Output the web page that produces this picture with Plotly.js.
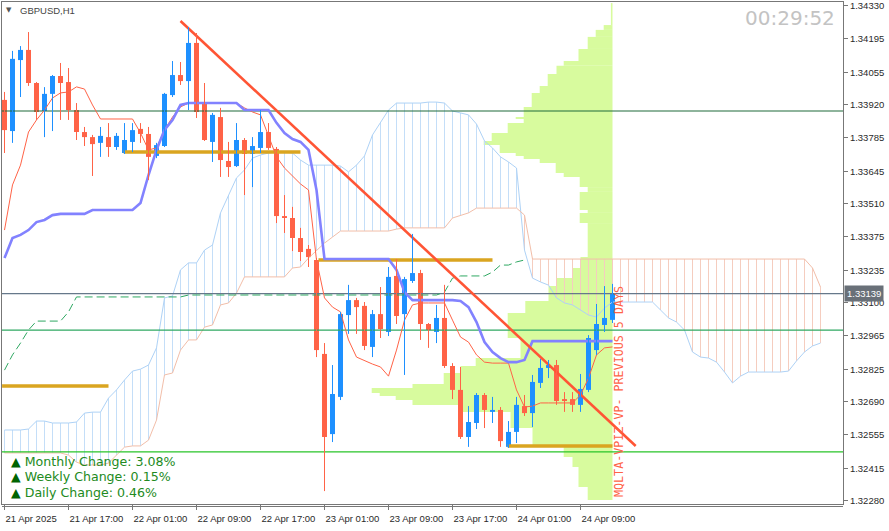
<!DOCTYPE html>
<html><head><meta charset="utf-8">
<script src="https://cdn.plot.ly/plotly-3.0.1.min.js"></script>
<style>html,body{margin:0;padding:0;background:#fff;}#chart{width:889px;height:531px;}</style>
</head><body><div id="chart"></div>
<script>
// ---- data (GBPUSD H1, bar 0 = 21 Apr 2025 09:00) ----
const openP=[1.33941,1.33812,1.34106,1.34148,1.34011,1.33895,1.33966,1.34040,1.34015,1.33899,
1.33808,1.33787,1.33763,1.33787,1.33746,1.33721,1.33767,1.33821,1.33800,1.33709,
1.33750,1.33961,1.34044,1.34019,1.34177,1.33928,1.33767,1.33870,1.33688,1.33667,
1.33775,1.33717,1.33742,1.33808,1.33738,1.33460,1.33452,1.33369,1.33324,1.33278,
1.32889,1.32557,1.32711,1.33050,1.33112,1.33088,1.32918,1.33054,1.32980,1.33212,
1.33054,1.33191,1.33224,1.33013,1.32980,1.33038,1.32839,1.32740,1.32545,1.32603,
1.32719,1.32649,1.32657,1.32504,1.32566,1.32673,1.32644,1.32769,1.32831,1.32843,
1.32702,1.32702,1.32678,1.32740,1.32905,1.33009,1.33030];
const highP=[1.33974,1.34144,1.34164,1.34222,1.34015,1.33994,1.34044,1.34094,1.34073,1.33928,
1.33829,1.33796,1.33829,1.33845,1.33804,1.33845,1.33845,1.33845,1.33829,1.33763,
1.33970,1.34102,1.34098,1.34243,1.34218,1.34011,1.33887,1.33908,1.33767,1.33845,
1.33783,1.33787,1.33899,1.33845,1.33746,1.33547,1.33498,1.33411,1.33340,1.33286,
1.32934,1.32843,1.33063,1.33175,1.33121,1.33104,1.33071,1.33166,1.33249,1.33282,
1.33208,1.33386,1.33237,1.33017,1.33092,1.33175,1.32851,1.32835,1.32673,1.32727,
1.32727,1.32711,1.32669,1.32611,1.32711,1.32719,1.32802,1.32868,1.32864,1.32864,
1.32731,1.32731,1.32806,1.32967,1.33096,1.33170,1.33179];
const lowP=[1.33721,1.33763,1.33953,1.33999,1.33858,1.33787,1.33812,1.33858,1.33858,1.33775,
1.33750,1.33626,1.33705,1.33705,1.33734,1.33717,1.33725,1.33763,1.33609,1.33700,
1.33746,1.33953,1.34003,1.33899,1.33866,1.33771,1.33684,1.33622,1.33622,1.33663,
1.33547,1.33580,1.33721,1.33734,1.33431,1.33390,1.33315,1.33274,1.33249,1.32876,
1.32321,1.32524,1.32698,1.32972,1.32972,1.32905,1.32876,1.32955,1.32963,1.33013,
1.32802,1.33183,1.32947,1.32914,1.32934,1.32831,1.32702,1.32537,1.32504,1.32578,
1.32582,1.32603,1.32504,1.32500,1.32520,1.32632,1.32586,1.32748,1.32789,1.32678,
1.32649,1.32649,1.32649,1.32731,1.32885,1.32980,1.33017];
const closeP=[1.33816,1.34111,1.34148,1.34011,1.33891,1.33966,1.34040,1.34011,1.33899,1.33808,
1.33787,1.33758,1.33792,1.33746,1.33792,1.33775,1.33816,1.33800,1.33705,1.33754,
1.33966,1.34044,1.34019,1.34177,1.33891,1.33775,1.33879,1.33692,1.33663,1.33775,
1.33717,1.33750,1.33808,1.33742,1.33460,1.33452,1.33369,1.33311,1.33290,1.32905,
1.32545,1.32723,1.33054,1.33112,1.33083,1.32922,1.33054,1.32992,1.33208,1.33046,
1.33199,1.33224,1.33013,1.32988,1.33038,1.32839,1.32740,1.32545,1.32607,1.32719,
1.32657,1.32657,1.32528,1.32566,1.32678,1.32644,1.32773,1.32831,1.32843,1.32694,
1.32694,1.32678,1.32744,1.32955,1.33013,1.33038,1.33139];

const tenkan=[1.33402,1.33589,1.33671,1.33808,1.33858,1.33899,1.33949,1.33970,1.33974,1.33995,
1.33986,1.33920,1.33862,1.33862,1.33862,1.33862,1.33862,1.33804,1.33734,1.33742,
1.33817,1.33870,1.33912,1.33928,1.33928,1.33928,1.33928,1.33928,1.33928,1.33928,
1.33908,1.33891,1.33879,1.33796,1.33705,1.33659,1.33626,1.33593,1.33568,1.33278,
1.33121,1.33083,1.33063,1.32947,1.32876,1.32860,1.32847,1.32835,1.32797,1.32905,
1.33029,1.33092,1.33100,1.33100,1.33100,1.33100,1.33029,1.32959,1.32938,1.32885,
1.32855,1.32851,1.32851,1.32851,1.32740,1.32669,1.32673,1.32686,1.32686,1.32686,
1.32686,1.32686,1.32719,1.32789,1.32885,1.32914,1.32918];
const kijun=[1.33286,1.33369,1.33382,1.33402,1.33435,1.33444,1.33464,1.33469,1.33469,1.33469,
1.33469,1.33485,1.33485,1.33485,1.33485,1.33485,1.33485,1.33514,1.33630,1.33734,
1.33817,1.33858,1.33920,1.33928,1.33928,1.33928,1.33928,1.33928,1.33928,1.33928,
1.33899,1.33899,1.33899,1.33899,1.33846,1.33804,1.33779,1.33767,1.33734,1.33568,
1.33282,1.33282,1.33282,1.33282,1.33282,1.33282,1.33282,1.33282,1.33282,1.33237,
1.33145,1.33112,1.33112,1.33112,1.33112,1.33112,1.33112,1.33108,1.33083,1.33021,
1.32938,1.32897,1.32872,1.32855,1.32855,1.32864,1.32942,1.32942,1.32942,1.32942,
1.32942,1.32942,1.32942,1.32942,1.32942,1.32942,1.32942];
const spanA=[1.32574,1.32574,1.32574,1.32578,1.32611,1.32611,1.32603,1.32603,1.32603,1.32607,
1.32644,1.32648,1.32648,1.32706,1.32740,1.32781,1.32818,1.32826,1.32843,1.32914,
1.33121,1.33129,1.33237,1.33266,1.33266,1.33319,1.33340,1.33473,1.33547,1.33618,
1.33651,1.33700,1.33713,1.33721,1.33725,1.33725,1.33721,1.33692,1.33671,1.33671,
1.33671,1.33671,1.33667,1.33643,1.33671,1.33709,1.33796,1.33850,1.33899,1.33928,
1.33928,1.33928,1.33928,1.33932,1.33932,1.33928,1.33895,1.33887,1.33879,1.33841,
1.33771,1.33742,1.33705,1.33684,1.33659,1.33319,1.33203,1.33187,1.33174,1.33121,
1.33100,1.33092,1.33071,1.33050,1.33042,1.33079,1.33104,1.33104,1.33104,1.33104,
1.33104,1.33104,1.33071,1.33038,1.33021,1.32988,1.32897,1.32876,1.32872,1.32855,
1.32814,1.32769,1.32797,1.32814,1.32814,1.32814,1.32814,1.32814,1.32818,1.32860,
1.32897,1.32922,1.32934];
const spanB=[1.32479,1.32479,1.32479,1.32479,1.32479,1.32479,1.32479,1.32479,1.32470,1.32441,
1.32429,1.32429,1.32429,1.32437,1.32470,1.32503,1.32508,1.32508,1.32532,1.32615,
1.32802,1.32810,1.32905,1.32947,1.32947,1.33000,1.33009,1.33092,1.33100,1.33141,
1.33208,1.33208,1.33208,1.33208,1.33208,1.33208,1.33245,1.33249,1.33286,1.33319,
1.33348,1.33373,1.33398,1.33398,1.33398,1.33398,1.33398,1.33398,1.33398,1.33406,
1.33411,1.33411,1.33411,1.33411,1.33411,1.33411,1.33452,1.33464,1.33473,1.33493,
1.33493,1.33493,1.33493,1.33493,1.33493,1.33464,1.33282,1.33282,1.33282,1.33282,
1.33282,1.33282,1.33282,1.33282,1.33282,1.33282,1.33282,1.33282,1.33282,1.33282,
1.33282,1.33282,1.33282,1.33282,1.33282,1.33282,1.33282,1.33282,1.33282,1.33282,
1.33282,1.33282,1.33282,1.33282,1.33282,1.33282,1.33282,1.33282,1.33282,1.33282,
1.33282,1.33245,1.33166];
const laggingLine=[1.32822,1.32885,1.32934,1.32988,1.33025,1.33025,1.33025,1.33025,1.33063,1.33125,
1.33125,1.33125,1.33125,1.33125,1.33125,1.33125,1.33125,1.33125,1.33125,1.33125,
1.33125,1.33125,1.33125,1.33133,1.33133,1.33133,1.33133,1.33133,1.33133,1.33133,
1.33133,1.33133,1.33133,1.33133,1.33133,1.33133,1.33133,1.33133,1.33133,1.33133,
1.33133,1.33133,1.33133,1.33133,1.33133,1.33133,1.33133,1.33133,1.33133,1.33133,
1.33133,1.33133,1.33133,1.33133,1.33133,1.33145,1.33203,1.33212,1.33212,1.33212,
1.33212,1.33228,1.33257,1.33257,1.33270,1.33278];

// volume profile (previous 5 days): price bin edges and volumes
const vpEdges=[1.34342,1.34251,1.34231,1.34202,1.34152,1.34102,1.34082,1.34048,1.33999,1.33970,
1.33912,1.33870,1.33862,1.33845,1.33804,1.33771,1.33754,1.33721,1.33709,1.33696,
1.33680,1.33638,1.33622,1.33580,1.33560,1.33485,1.33473,1.33431,1.33290,1.33245,
1.33203,1.33170,1.33108,1.33059,1.32955,1.32872,1.32839,1.32810,1.32764,1.32748,
1.32727,1.32715,1.32698,1.32678,1.32649,1.32582,1.32508,1.32462,1.32421,1.32338,1.32284];
const vpVolume=[0.2,1.1,2.1,3.1,4.25,6.1,7.0,8.1,9.1,10.1,
11.1,12.1,11.1,13.1,15.1,16.1,14.1,12.1,11.1,9.1,
7.1,6.1,4.1,3.1,4.1,3.1,4.1,3.1,4.0,5.0,
7.0,8.0,10.9,13.1,11.5,17.1,19.0,21.1,25.0,30.1,
29.1,27.1,25.0,19.0,12.75,10.0,6.1,5.0,4.25,3.1];

const levelPrices=[1.33895,1.33139,1.32988,1.32483];
const goldLevels=[1.32756,1.33725,1.33278,1.32508];
const goldFrom=[-0.3,14.9,39.25,62.9];
const goldTo=[13.0,37.0,61.0,76.0];
const trendX=[22,78.9];
const trendY=[1.34268,1.32508];
const currentPrice=1.33139;

const yTicks=[1.34330,1.34195,1.34055,1.33920,1.33785,1.33645,1.33510,1.33375,1.33235,1.33100,1.32965,1.32825,1.32690,1.32555,1.32415,1.32280];
const xTickBars=[0,8,16,24,32,40,48,56,64,72];
const xTickLabels=["21 Apr 2025","21 Apr 17:00","22 Apr 01:00","22 Apr 09:00","22 Apr 17:00","23 Apr 01:00","23 Apr 09:00","23 Apr 17:00","24 Apr 01:00","24 Apr 09:00"];
const changeLabels=["Monthly Change: 3.08%","Weekly Change: 0.15%","Daily Change: 0.46%"];

// ---- styles ----
const UP='#1e90ff', DN='#ff6347';
const xRange=[-0.3125,104.8125];
const yRange=[1.322675,1.343465];
const traces=[];

// volume profile bars
const last=openP.length-1;
const vpY=[],vpW=[],vpX=[];
for(let i=0;i<vpVolume.length;i++){
  vpY.push((vpEdges[i]+vpEdges[i+1])/2);
  vpW.push(vpEdges[i]-vpEdges[i+1]);
  vpX.push(-vpVolume[i]);
}
traces.push({type:'bar',orientation:'h',y:vpY,x:vpX,width:vpW,base:last,
  marker:{color:'#d8fb9e',line:{width:0}},hoverinfo:'skip'});

// cloud hatch
const hb={x:[],y:[]}, hp={x:[],y:[]};
for(let k=0;k<spanA.length;k++){
  const t=spanA[k]>=spanB[k]?hb:hp;
  t.x.push(k,k,null); t.y.push(spanA[k],spanB[k],null);
}
traces.push({type:'scatter',mode:'lines',x:hb.x,y:hb.y,line:{color:'#c4def8',width:1},hoverinfo:'skip'});
traces.push({type:'scatter',mode:'lines',x:hp.x,y:hp.y,line:{color:'#f5cdbf',width:1},hoverinfo:'skip'});
const idxSpan=spanA.map((_,i)=>i);
traces.push({type:'scatter',mode:'lines',x:idxSpan,y:spanA,line:{color:'#aed2f6',width:1},hoverinfo:'skip'});
traces.push({type:'scatter',mode:'lines',x:idxSpan,y:spanB,line:{color:'#f2bea9',width:1},hoverinfo:'skip'});

// horizontal levels
const levelColors=['#1f6a3b','#66788a','#2fa862','#28c428'];
levelPrices.forEach((p,i)=>traces.push({type:'scatter',mode:'lines',x:xRange,y:[p,p],
  line:{color:levelColors[i],width:1.2},hoverinfo:'skip'}));

// lagging dashed line
traces.push({type:'scatter',mode:'lines',x:laggingLine.map((_,i)=>i),y:laggingLine,
  line:{color:'#2fa862',width:1,dash:'8px,4px'},hoverinfo:'skip'});

// gold segments
goldLevels.forEach((p,i)=>traces.push({type:'scatter',mode:'lines',x:[goldFrom[i],goldTo[i]],y:[p,p],
  line:{color:'#daa520',width:3.5},hoverinfo:'skip'}));

const idx=openP.map((_,i)=>i);
traces.push({type:'scatter',mode:'lines',x:idx,y:tenkan,line:{color:'#ff6347',width:1},hoverinfo:'skip'});
traces.push({type:'scatter',mode:'lines',x:idx,y:kijun,line:{color:'#8282ff',width:2.6},hoverinfo:'skip'});
traces.push({type:'scatter',mode:'lines',x:trendX,y:trendY,line:{color:'#ff5535',width:2.6},hoverinfo:'skip'});

// candles
const cu={wx:[],wy:[],bx:[],bb:[],bh:[]}, cd={wx:[],wy:[],bx:[],bb:[],bh:[]};
for(let k=0;k<openP.length;k++){
  const o=openP[k],c=closeP[k],t=c>=o?cu:cd;
  t.wx.push(k,k,null); t.wy.push(lowP[k],highP[k],null);
  t.bx.push(k); t.bb.push(Math.min(o,c)); t.bh.push(Math.max(Math.abs(c-o),0.00004));
}
[[cu,UP],[cd,DN]].forEach(([t,col])=>{
  traces.push({type:'scatter',mode:'lines',x:t.wx,y:t.wy,line:{color:col,width:1},hoverinfo:'skip'});
  traces.push({type:'bar',x:t.bx,y:t.bh,base:t.bb,width:0.62,marker:{color:col,line:{width:0}},hoverinfo:'skip'});
});

const axFont={family:'Liberation Sans, Arial, sans-serif',size:9.5,color:'#2a2a2a'};
const annotations=[
  {xref:'paper',yref:'paper',x:0.0083,y:0.985,text:'▼',showarrow:false,xanchor:'center',yanchor:'middle',font:{family:'DejaVu Sans',size:7,color:'#555'}},
  {xref:'paper',yref:'paper',x:0.019,y:0.984,text:'GBPUSD,H1',showarrow:false,xanchor:'left',yanchor:'middle',font:{family:'Liberation Sans',size:9.5,color:'#444'}},
  {xref:'paper',yref:'paper',x:0.9929,y:0.968,text:'00:29:52',showarrow:false,xanchor:'right',yanchor:'middle',font:{family:'DejaVu Sans',size:20,color:'#c3c3c3'}},
  {xref:'x',yref:'y',x:76.8,y:1.32735,text:'MQLTA-VPIZ-VP- PREVIOUS 5 DAYS',textangle:-90,showarrow:false,xanchor:'center',yanchor:'middle',font:{family:'DejaVu Sans Mono',size:11.7,color:'#ff6347'}},
  {xref:'paper',yref:'y',x:1,xshift:1,y:currentPrice,text:currentPrice.toFixed(5),showarrow:false,xanchor:'left',yanchor:'middle',bgcolor:'#697078',borderpad:2,font:{family:'Liberation Sans',size:9.5,color:'#ffffff'}}
];
const changeY=[0.0837,0.0538,0.0239];
changeLabels.forEach((t,i)=>annotations.push({xref:'paper',yref:'paper',x:0.0083,y:changeY[i],
  text:'<span style="color:#006400">▲</span> '+t,showarrow:false,xanchor:'left',yanchor:'middle',
  font:{family:'DejaVu Sans',size:12.6,color:'#228a22'}}));

const layout={
  width:889,height:531,margin:{l:2,r:46,t:2,b:27,pad:0},
  paper_bgcolor:'#fff',plot_bgcolor:'#fff',showlegend:false,barmode:'overlay',hovermode:false,
  xaxis:{range:xRange,showgrid:false,zeroline:false,showline:true,linecolor:'#777',linewidth:1,mirror:true,
    ticks:'outside',ticklen:5,tickcolor:'#777',tickvals:xTickBars,ticktext:xTickLabels,
    ticklabelposition:'outside right',ticklabelstandoff:6,tickfont:axFont,automargin:false,fixedrange:true},
  yaxis:{range:yRange,side:'right',showgrid:false,zeroline:false,showline:true,linecolor:'#777',linewidth:1,mirror:true,
    ticks:'outside',ticklen:4,tickcolor:'#777',tickvals:yTicks,ticktext:yTicks.map(v=>v.toFixed(5)),
    tickfont:axFont,automargin:false,fixedrange:true},
  shapes:[{type:'line',xref:'paper',yref:'paper',x0:0,x1:1,y0:-0.005,y1:-0.005,line:{color:'#777',width:1}}],
  annotations:annotations
};
Plotly.newPlot('chart',traces,layout,{staticPlot:true,displayModeBar:false});
</script></body></html>
